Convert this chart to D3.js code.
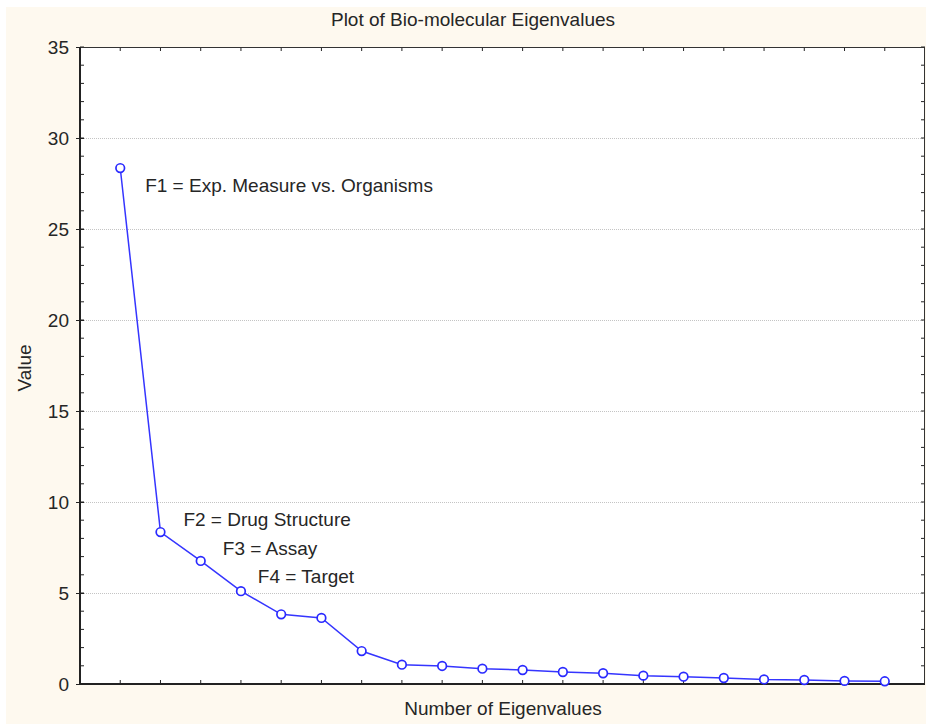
<!DOCTYPE html>
<html>
<head>
<meta charset="utf-8">
<script src="https://cdn.jsdelivr.net/npm/d3@7"></script>
<style>
  html, body { margin: 0; padding: 0; background: #ffffff; }
  svg { display: block; }
  text { font-family: "Liberation Sans", Arial, sans-serif; fill: #262626; }
</style>
</head>
<body>
<svg id="chart" width="926" height="724"></svg>
<script>
// ---- Data ----
const eigenIndex = [1,2,3,4,5,6,7,8,9,10,11,12,13,14,15,16,17,18,19,20];
const eigenValues = [28.35, 8.35, 6.76, 5.1, 3.83, 3.63, 1.81, 1.06, 0.99, 0.84,
                     0.77, 0.66, 0.59, 0.46, 0.40, 0.33, 0.25, 0.22, 0.17, 0.15];
const yTickValues = [0, 5, 10, 15, 20, 25, 30, 35];
const annotations = [
  { text: "F1 = Exp. Measure vs. Organisms", x: 1.62, y: 27.03 },
  { text: "F2 = Drug Structure", x: 2.57, y: 8.68 },
  { text: "F3 = Assay", x: 3.55, y: 7.09 },
  { text: "F4 = Target", x: 4.42, y: 5.55 }
];
const titleText = "Plot of Bio-molecular Eigenvalues";
const xLabel = "Number of Eigenvalues";
const yLabel = "Value";

// ---- Layout ----
const svg = d3.select("#chart");
const pL = 80, pR = 925, pT = 47, pB = 684;

svg.append("rect").attr("x", 6).attr("y", 7).attr("width", 920).attr("height", 717)
  .attr("fill", "#fef9ef");
svg.append("rect").attr("x", pL).attr("y", pT).attr("width", pR - pL).attr("height", pB - pT)
  .attr("fill", "#ffffff");

const x = d3.scaleLinear().domain([0, 21]).range([pL, pR]);
const y = d3.scaleLinear().domain([0, 35]).range([pB, pT]);

// gridlines
svg.append("g").selectAll("line").data(yTickValues.filter(v => v > 0 && v < 35)).join("line")
  .attr("x1", pL).attr("x2", pR)
  .attr("y1", d => Math.round(y(d)) + 0.5).attr("y2", d => Math.round(y(d)) + 0.5)
  .attr("stroke", "#c4c4c4").attr("stroke-width", 1).attr("stroke-dasharray", "1,1");

// axes (ticks)
const minorY = d3.range(0, 36, 1);
const axL = svg.append("g").attr("transform", `translate(${pL},0)`)
  .call(d3.axisLeft(y).tickValues(yTickValues).tickSize(4).tickPadding(7).tickFormat(d3.format("d")));
axL.select(".domain").remove();
axL.selectAll(".tick line").attr("x2", 4).attr("x1", -4).attr("stroke", "#222");
axL.selectAll(".tick text").style("font-size", "19px").attr("fill", "#262626")
  .style("font-family", "'Liberation Sans', Arial, sans-serif").attr("dy", "0.34em");

svg.append("g").selectAll("line").data(minorY).join("line")
  .attr("x1", pL).attr("x2", pL + 4)
  .attr("y1", d => y(d)).attr("y2", d => y(d)).attr("stroke", "#222");
svg.append("g").selectAll("line").data(minorY).join("line")
  .attr("x1", pR - 4).attr("x2", pR)
  .attr("y1", d => y(d)).attr("y2", d => y(d)).attr("stroke", "#222");
svg.append("g").selectAll("line").data(eigenIndex).join("line")
  .attr("x1", d => x(d)).attr("x2", d => x(d))
  .attr("y1", pB).attr("y2", pB - 4).attr("stroke", "#222");
svg.append("g").selectAll("line").data(eigenIndex).join("line")
  .attr("x1", d => x(d)).attr("x2", d => x(d))
  .attr("y1", pT).attr("y2", pT + 4).attr("stroke", "#222");

// frame
svg.append("rect").attr("x", pL + 0.5).attr("y", pT + 0.5)
  .attr("width", pR - pL - 1).attr("height", pB - pT - 1)
  .attr("fill", "none").attr("stroke", "#333").attr("stroke-width", 1);
svg.append("line").attr("x1", pL).attr("x2", pR).attr("y1", pB).attr("y2", pB)
  .attr("stroke", "#222").attr("stroke-width", 2);
svg.append("line").attr("x1", pL).attr("x2", pL).attr("y1", pT).attr("y2", pB)
  .attr("stroke", "#222").attr("stroke-width", 2);

// line + markers
const pts = eigenIndex.map((d, i) => ({ i: d, v: eigenValues[i] }));
svg.append("path").datum(pts)
  .attr("d", d3.line().x(d => x(d.i)).y(d => y(d.v)))
  .attr("fill", "none").attr("stroke", "#3535ff").attr("stroke-width", 1.5);
svg.append("g").selectAll("circle").data(pts).join("circle")
  .attr("cx", d => x(d.i)).attr("cy", d => y(d.v)).attr("r", 4.3)
  .attr("fill", "#ffffff").attr("stroke", "#2a2aff").attr("stroke-width", 1.7);

// annotations
svg.append("g").selectAll("text").data(annotations).join("text")
  .attr("x", d => x(d.x)).attr("y", d => y(d.y))
  .style("font-size", "19px").text(d => d.text);

// titles
svg.append("text").attr("x", 473).attr("y", 26).attr("text-anchor", "middle")
  .style("font-size", "19px").text(titleText);
svg.append("text").attr("x", 503).attr("y", 715).attr("text-anchor", "middle")
  .style("font-size", "19px").text(xLabel);
svg.append("text").attr("transform", "translate(31,368) rotate(-90)").attr("text-anchor", "middle")
  .style("font-size", "19px").text(yLabel);
</script>
</body>
</html>
